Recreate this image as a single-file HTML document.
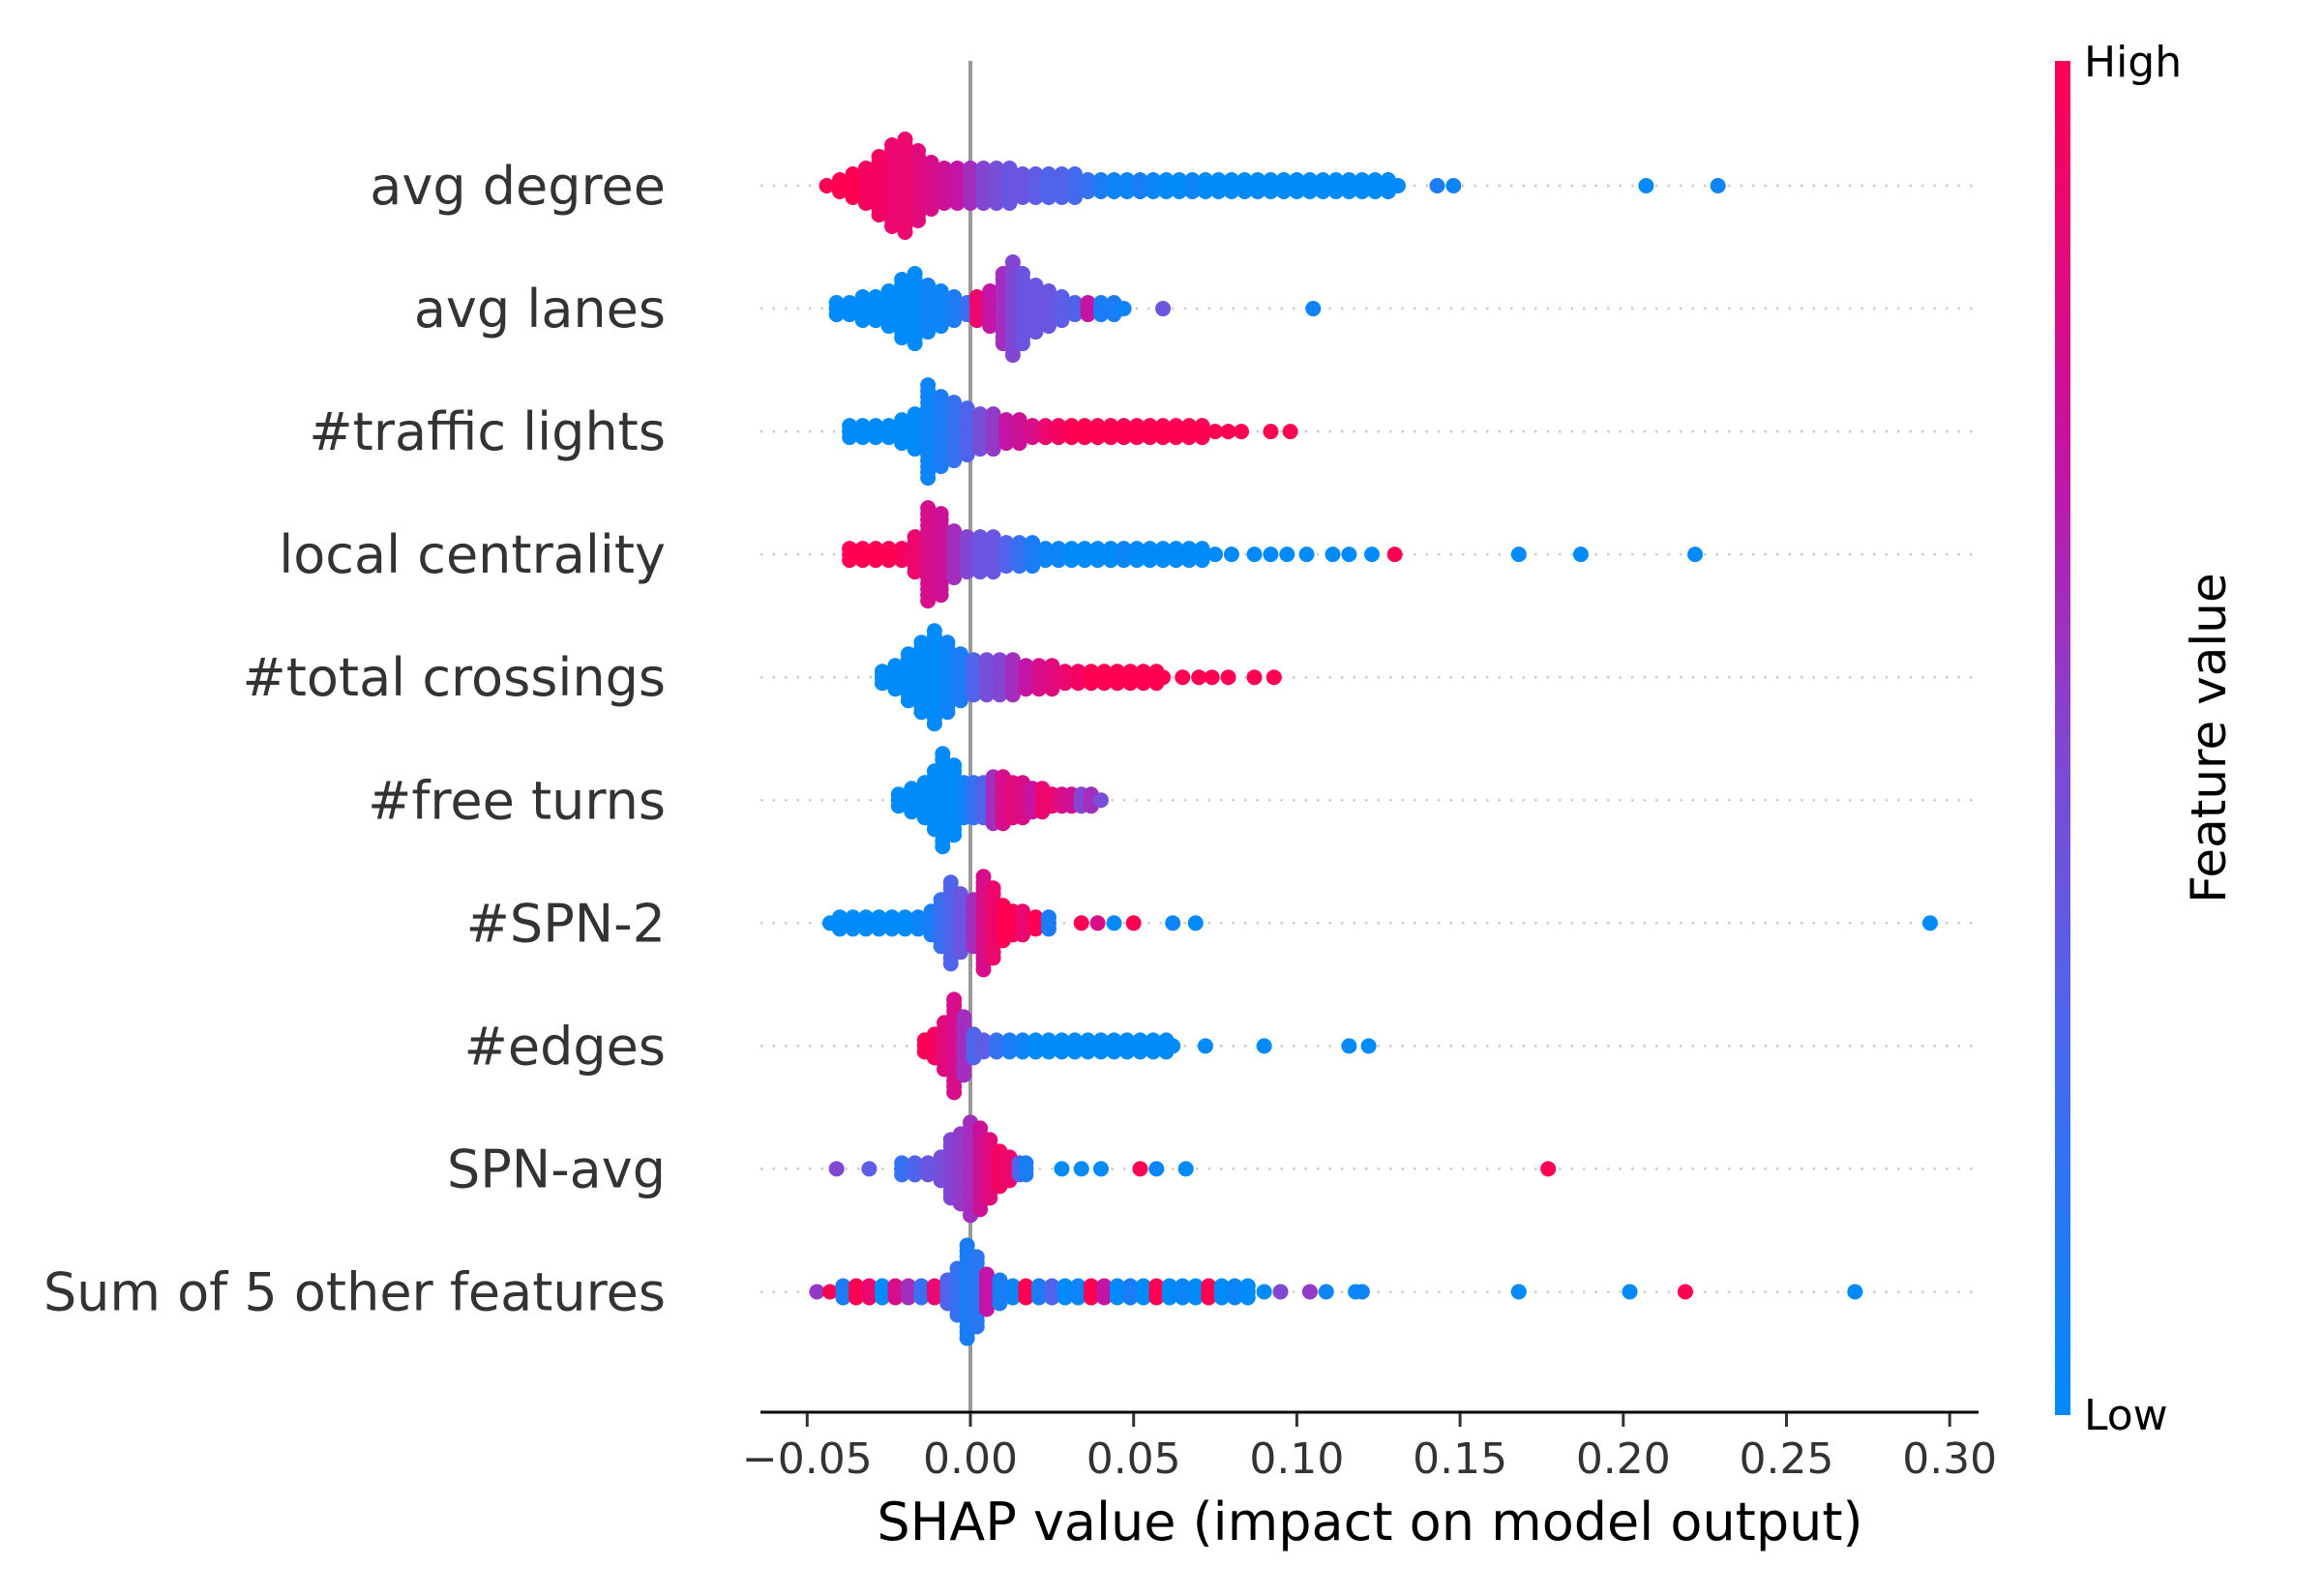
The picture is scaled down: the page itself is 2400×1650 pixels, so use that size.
<!DOCTYPE html>
<html><head><meta charset="utf-8">
<style>
html,body{margin:0;padding:0;background:#fff;}
svg{display:block;font-family:"DejaVu Sans","Liberation Sans",sans-serif;}
</style></head>
<body>
<svg id="chart" width="2400" height="1650" viewBox="0 0 2400 1650" xmlns="http://www.w3.org/2000/svg">
  <defs>
    <linearGradient id="cbGrad" x1="0" y1="1" x2="0" y2="0">
      <stop offset="0" stop-color="rgb(0,138,250)"/>
      <stop offset="0.3" stop-color="rgb(80,100,235)"/>
      <stop offset="0.5" stop-color="rgb(130,70,210)"/>
      <stop offset="0.7" stop-color="rgb(195,20,165)"/>
      <stop offset="1" stop-color="rgb(255,0,82)"/>
    </linearGradient>
  </defs>
  <g id="gridlines"></g>
  <line x1="1003" y1="63" x2="1003" y2="1460" stroke="#999" stroke-width="4"/>
  <g id="dots"></g>
  <g id="labels"></g>
  <line x1="786" y1="1460" x2="2045" y2="1460" stroke="#000" stroke-width="3"/>
  <g id="xticks"></g>
  <text x="1416" y="1592" font-size="54" text-anchor="middle" fill="#000">SHAP value (impact on model output)</text>
  <rect x="2124" y="63" width="16" height="1400" fill="url(#cbGrad)"/>
  <text x="2154" y="79" font-size="44" fill="#000">High</text>
  <text x="2154" y="1478" font-size="44" fill="#000">Low</text>
  <text x="2300" y="763" font-size="50" text-anchor="middle" fill="#000" transform="rotate(-90 2300 763)">Feature value</text>
</svg>
<script>
const features = ["avg degree","avg lanes","#traffic lights","local centrality","#total crossings","#free turns","#SPN-2","#edges","SPN-avg","Sum of 5 other features"];
const xTicks = [-0.05,0,0.05,0.1,0.15,0.2,0.25,0.3];
const xTickLabels = ["\u22120.05","0.00","0.05","0.10","0.15","0.20","0.25","0.30"];

const shap0 = [-0.044,-0.04,-0.036,-0.032,-0.028,-0.024,-0.02,-0.016,-0.012,-0.008,-0.004,0,0.004,0.008,0.012,0.016,0.02,0.024,0.028,0.032,0.036,0.04,0.044,0.048,0.052,0.056,0.06,0.064,0.068,0.072,0.076,0.08,0.084,0.088,0.092,0.096,0.1,0.104,0.108,0.112,0.116,0.12,0.124,0.128,0.131,0.143,0.148,0.207,0.229];
const half0 = [0,1,2,3,5,7,8,6,4,3,3,3,3,3,3,2,2,2,2,2,1,1,1,1,1,1,1,1,1,1,1,1,1,1,1,1,1,1,1,1,1,1,1,1,0,0,0,0,0];
const feat0 = [1,1,1,0.95,0.95,0.9,0.9,0.85,0.8,0.75,0.7,0.6,0.5,0.45,0.4,0.4,0.35,0.3,0.3,0.25,0.2,0.1,0.05,0.05,0.1,0.05,0,0,0.05,0,0,0,0,0,0,0,0,0,0,0,0,0,0,0,0,0.1,0.05,0,0.05];

const shap1 = [-0.041,-0.037,-0.033,-0.029,-0.025,-0.021,-0.017,-0.013,-0.009,-0.005,-0.001,0.002,0.006,0.01,0.013,0.016,0.02,0.024,0.028,0.032,0.036,0.04,0.044,0.047,0.059,0.105];
const half1 = [1,1,2,2,3,5,6,4,3,2,1,2,3,6,8,6,4,3,2,1,1,1,1,0,0,0];
const feat1 = [0,0,0,0,0,0,0,0.05,0.05,0.1,0.2,0.9,0.7,0.6,0.5,0.4,0.4,0.4,0.35,0.3,0.7,0.1,0.1,0.05,0.4,0.05];

const shap2 = [-0.037,-0.033,-0.029,-0.025,-0.021,-0.017,-0.013,-0.009,-0.005,-0.001,0.003,0.007,0.011,0.015,0.019,0.023,0.027,0.031,0.035,0.039,0.043,0.047,0.051,0.055,0.059,0.063,0.067,0.071,0.075,0.079,0.083,0.092,0.098];
const half2 = [1,1,1,1,2,3,8,6,5,4,3,3,2,2,1,1,1,1,1,1,1,1,1,1,1,1,1,1,0,0,0,0,0];
const feat2 = [0,0,0,0,0,0,0.05,0.1,0.2,0.3,0.45,0.55,0.7,0.75,0.8,0.9,0.95,1,1,1,1,1,1,1,1,1,1,1,1,1,1,1,1];

const shap3 = [-0.037,-0.033,-0.029,-0.025,-0.021,-0.017,-0.013,-0.009,-0.005,-0.001,0.003,0.007,0.011,0.015,0.019,0.023,0.027,0.031,0.035,0.039,0.043,0.047,0.051,0.055,0.059,0.063,0.067,0.071,0.075,0.08,0.087,0.092,0.097,0.103,0.111,0.116,0.123,0.130,0.168,0.187,0.222];
const half3 = [1,1,1,1,1,3,8,7,4,3,3,3,2,2,2,1,1,1,1,1,1,1,1,1,1,1,1,1,0,0,0,0,0,0,0,0,0,0,0,0,0];
const feat3 = [1,1,1,1,0.95,0.9,0.8,0.75,0.6,0.5,0.4,0.4,0.3,0.2,0.1,0.05,0.05,0,0,0,0,0.05,0,0,0,0,0,0,0,0,0,0,0,0,0,0,0,1,0,0,0];

const shap4 = [-0.027,-0.023,-0.019,-0.015,-0.011,-0.007,-0.003,0.001,0.005,0.009,0.013,0.017,0.021,0.025,0.029,0.033,0.037,0.041,0.045,0.049,0.053,0.057,0.059,0.065,0.07,0.074,0.079,0.087,0.093];
const half4 = [1,2,4,6,8,6,4,3,3,3,3,2,2,2,1,1,1,1,1,1,1,1,0,0,0,0,0,0,0];
const feat4 = [0,0,0,0,0,0.05,0.1,0.3,0.45,0.5,0.6,0.7,0.8,0.85,0.9,0.95,1,1,1,1,1,1,1,1,1,1,1,1,1];

const shap5 = [-0.022,-0.018,-0.014,-0.011,-0.0085,-0.005,-0.002,0.001,0.004,0.007,0.01,0.013,0.016,0.019,0.022,0.025,0.028,0.031,0.034,0.037,0.040];
const half5 = [1,2,3,5,8,6,3,3,3,4,4,3,3,2,2,1,1,1,1,1,0];
const feat5 = [0,0,0,0,0,0,0.05,0.2,0.3,0.6,0.8,0.85,0.8,0.7,0.9,0.9,0.8,0.75,0.5,0.6,0.45];

const shap6 = [-0.043,-0.04,-0.036,-0.032,-0.028,-0.024,-0.02,-0.016,-0.012,-0.009,-0.006,-0.003,0.001,0.004,0.007,0.01,0.013,0.016,0.02,0.024,0.034,0.039,0.044,0.05,0.062,0.069,0.294];
const half6 = [0,1,1,1,1,1,1,1,2,4,7,5,4,8,6,3,2,2,1,1,0,0,0,0,0,0,0];
const feat6 = [0,0,0,0,0,0,0,0.05,0.1,0.2,0.3,0.4,0.6,0.8,0.9,1,1,0.9,1,0.1,1,0.8,0,1,0.05,0,0];

const shap7 = [-0.014,-0.011,-0.008,-0.005,-0.002,0.001,0.004,0.008,0.012,0.016,0.02,0.024,0.028,0.032,0.036,0.04,0.044,0.048,0.052,0.056,0.06,0.062,0.072,0.09,0.116,0.122];
const half7 = [1,2,4,8,5,2,1,1,1,1,1,1,1,1,1,1,1,1,1,1,1,0,0,0,0,0];
const feat7 = [1,0.95,0.85,0.8,0.6,0.3,0.35,0.2,0.1,0.05,0,0,0,0,0,0,0,0,0,0,0,0,0,0,0,0];

const shap8 = [-0.041,-0.031,-0.021,-0.017,-0.013,-0.009,-0.006,-0.003,0,0.003,0.006,0.009,0.012,0.015,0.017,0.028,0.034,0.04,0.052,0.057,0.066,0.177];
const half8 = [0,0,1,1,1,2,5,6,8,7,5,3,2,1,1,0,0,0,0,0,0,0];
const feat8 = [0.5,0.35,0.2,0.3,0.4,0.45,0.5,0.55,0.6,0.75,0.85,0.95,0.9,0.3,0.1,0,0,0,1,0.05,0,1];

const shap9 = [-0.047,-0.043,-0.039,-0.035,-0.031,-0.027,-0.023,-0.019,-0.015,-0.011,-0.007,-0.004,-0.001,0.002,0.005,0.009,0.013,0.017,0.021,0.025,0.029,0.033,0.037,0.041,0.045,0.049,0.053,0.057,0.061,0.065,0.069,0.073,0.077,0.081,0.085,0.09,0.095,0.104,0.109,0.118,0.12,0.168,0.202,0.219,0.271];
const half9 = [0,0,1,1,1,1,1,1,1,1,2,4,8,6,3,2,1,1,1,1,1,1,1,1,1,1,1,1,1,1,1,1,1,1,1,0,0,0,0,0,0,0,0,0,0];
const feat9 = [0.55,1,0.1,1,0.9,0,0.8,0.6,0.2,0.9,0.3,0.2,0.1,0.15,0.7,0.1,0.05,1,0.1,0.3,0,0.05,1,0.7,0,0.1,0,1,0,0.05,0,1,0,0.05,0,0,0.5,0.55,0.05,0,0.05,0,0,1,0];

const rowShap = [shap0,shap1,shap2,shap3,shap4,shap5,shap6,shap7,shap8,shap9];
const rowHalf = [half0,half1,half2,half3,half4,half5,half6,half7,half8,half9];
const rowFeat = [feat0,feat1,feat2,feat3,feat4,feat5,feat6,feat7,feat8,feat9];

const NS = "http://www.w3.org/2000/svg";
function xScale(v){ return 1003 + v * 3374; }
function yRow(i){ return 192 + i * 127.05; }
const cStops = [[0,[0,138,250]],[0.3,[80,100,235]],[0.5,[130,70,210]],[0.7,[195,20,165]],[1,[255,0,82]]];
function colorOf(f){
  for (let k=1;k<cStops.length;k++){
    if (f <= cStops[k][0]) {
      const a=cStops[k-1], b=cStops[k], t=(f-a[0])/(b[0]-a[0]);
      const c=a[1].map((v,j)=>Math.round(v+(b[1][j]-v)*t));
      return "rgb("+c.join(",")+")";
    }
  }
  return "rgb(255,0,82)";
}
const gGrid = document.getElementById("gridlines");
const gDots = document.getElementById("dots");
const gLab = document.getElementById("labels");
const gTick = document.getElementById("xticks");

features.forEach((name,i)=>{
  const y = yRow(i);
  const ln = document.createElementNS(NS,"line");
  
  
  ln.setAttribute("x1",786); ln.setAttribute("x2",2045);
  ln.setAttribute("y1",y); ln.setAttribute("y2",y);
  ln.setAttribute("stroke","#ccc"); ln.setAttribute("stroke-width","2.5");
  ln.setAttribute("stroke-dasharray","2.5 10");
  gGrid.appendChild(ln);

  const t = document.createElementNS(NS,"text");
  
  
  t.setAttribute("x",688); t.setAttribute("y",y+19);
  t.setAttribute("font-size","54"); t.setAttribute("text-anchor","end");
  t.setAttribute("fill","#333");
  t.textContent = name;
  gLab.appendChild(t);

  const sv = rowShap[i], hv = rowHalf[i], fv = rowFeat[i];
  sv.forEach((v,k)=>{
    const h = hv[k];
    for (let s=-h; s<=h; s++){
      const c = document.createElementNS(NS,"circle");
      
      
      c.setAttribute("cx", xScale(v));
      c.setAttribute("cy", y + s*6);
      c.setAttribute("r", 8);
      c.setAttribute("fill", colorOf(fv[k]));
      gDots.appendChild(c);
    }
  });
});

xTicks.forEach((v,i)=>{
  const x = xScale(v);
  const tl = document.createElementNS(NS,"line");
  
  
  tl.setAttribute("x1",x); tl.setAttribute("x2",x);
  tl.setAttribute("y1",1461); tl.setAttribute("y2",1475);
  tl.setAttribute("stroke","#333"); tl.setAttribute("stroke-width","3");
  gTick.appendChild(tl);
  const tx = document.createElementNS(NS,"text");
  
  
  tx.setAttribute("x",x); tx.setAttribute("y",1523);
  tx.setAttribute("font-size","44"); tx.setAttribute("text-anchor","middle");
  tx.setAttribute("fill","#333");
  tx.textContent = xTickLabels[i];
  gTick.appendChild(tx);
});
</script>
</body></html>
